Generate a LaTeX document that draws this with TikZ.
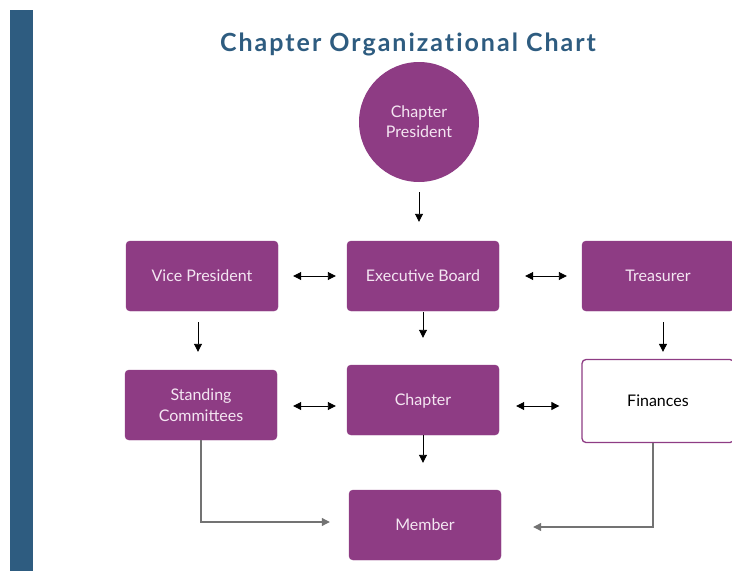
\documentclass[tikz,border=0pt]{standalone}
\usepackage{fontspec}
\setmainfont{Lato}
\newfontfamily\titlefont[LetterSpace=8,Ligatures={NoCommon}]{Lato Bold}
\usetikzlibrary{arrows.meta}
\definecolor{barblue}{HTML}{2E5C80}
\definecolor{plum}{HTML}{8E3C84}
\definecolor{boxtext}{HTML}{F4E6F2}
\tikzset{
  pbox/.style={draw=plum, fill=plum, rounded corners=4pt, minimum width=152pt, minimum height=70pt, text=boxtext, font=\fontsize{16}{21}\selectfont, align=center, inner sep=0pt, text depth=0pt},
  wbox/.style={pbox, fill=white, line width=1.3pt, text=black, minimum height=83pt},
  arr/.style={-{Triangle[length=8pt,width=8pt]}, line width=0.9pt, black},
  darr/.style={{Triangle[length=8pt,width=8pt]}-{Triangle[length=8pt,width=8pt]}, line width=0.9pt, black},
  garr/.style={-{Triangle[length=8pt,width=8pt]}, line width=1.1pt, draw=black!55},
}
\begin{document}
\begin{tikzpicture}[x=1pt,y=-1pt]
\useasboundingbox (0,0) rectangle (732,571);
\fill[barblue] (10,10) rectangle (33,571);
\node[text=barblue, font=\titlefont\fontsize{25}{28}\selectfont] (title) at (408,44) {Chapter Organizational Chart};
\node[circle, fill=plum, minimum size=120pt, inner sep=0pt, text=boxtext, align=center, font=\fontsize{16}{20}\selectfont] (pres) at (419,122) {Chapter\\President};
\node[pbox] (vp) at (202,276) {Vice President};
\node[pbox] (eb) at (423,276) {Executive Board};
\node[pbox] (tr) at (658,276) {Treasurer};
\node[pbox] (sc) at (201,405) {Standing\\Committees};
\node[pbox] (ch) at (423,400) {Chapter};
\node[wbox] (fi) at (658,401) {Finances};
\node[pbox] (me) at (425,525) {Member};
% vertical arrows
\draw[arr, shorten <=10pt, shorten >=19pt] (pres.south) -- (pres.south |- eb.north);
\draw[arr, shorten <=11pt, shorten >=18pt] ([xshift=-4pt]vp.south) -- ([xshift=-4pt]vp.south |- sc.north);
\draw[arr, shorten <=1pt, shorten >=27pt] (eb.south) -- (ch.north);
\draw[arr, shorten <=11pt, shorten >=7pt] ([xshift=5pt]tr.south) -- ([xshift=5pt]tr.south |- fi.north);
\draw[arr, shorten <=0pt, shorten >=27pt] (ch.south) -- (ch.south |- me.north);
% horizontal double arrows
\draw[darr, shorten <=15pt, shorten >=11pt] (vp.east) -- (eb.west);
\draw[darr, shorten <=26pt, shorten >=15pt] (eb.east) -- (tr.west);
\draw[darr, shorten <=16pt, shorten >=11pt] ([yshift=-1pt]sc.east) -- ([yshift=-1pt]sc.east -| ch.west);
\draw[darr, shorten <=17pt, shorten >=22pt] ([yshift=-6pt]ch.east) -- ([yshift=-6pt]ch.east -| fi.west);
% elbow arrows
\coordinate (scturn) at (sc.south |- 0,522);
\coordinate (fiturn) at ([xshift=-5pt]fi.south |- 0,527);
\draw[garr, shorten >=19pt] (sc.south) -- (scturn) -- (scturn -| me.west);
\draw[garr, shorten >=32pt] ([xshift=-5pt]fi.south) -- (fiturn) -- (fiturn -| me.east);
\end{tikzpicture}
\end{document}
